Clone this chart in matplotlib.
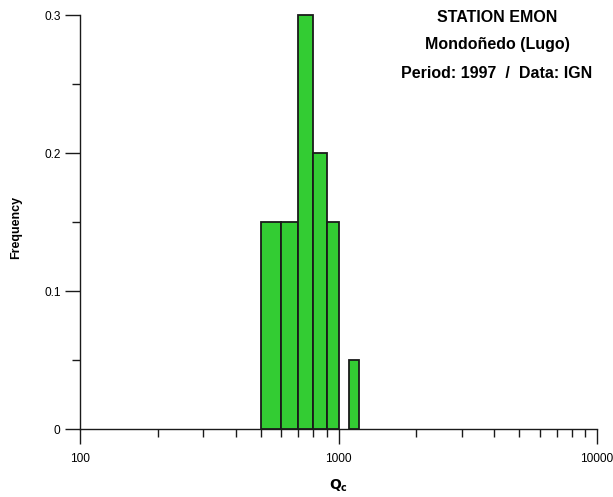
import matplotlib
matplotlib.use("Agg")
import matplotlib.pyplot as plt
from matplotlib.ticker import FixedLocator, NullFormatter

plt.rcParams['font.family'] = ['Liberation Sans', 'DejaVu Sans']

bin_left = [500, 600, 700, 800, 900, 1100]
bin_right = [600, 700, 800, 900, 1000, 1200]
freq = [0.15, 0.15, 0.30, 0.20, 0.15, 0.05]

y_ticks = [0, 0.1, 0.2, 0.3]
y_labels = ["0", "0.1", "0.2", "0.3"]
x_ticks = [100, 1000, 10000]
x_labels = ["100", "1000", "10000"]
title_lines = ["STATION EMON", "Mondoñedo (Lugo)", "Period: 1997  /  Data: IGN"]

fig = plt.figure(figsize=(6.13, 4.97), dpi=100)
ax = fig.add_axes([80/613, 1-429/497, (597-80)/613, (429-15)/497])

widths = [r - l for l, r in zip(bin_left, bin_right)]
ax.bar(bin_left, freq, width=widths, align='edge', color='#33cc33',
       edgecolor='#1a1a1a', linewidth=1.3, clip_on=False, zorder=3)

ax.set_xscale('log')
ax.set_xlim(100, 10000)
ax.set_ylim(0, 0.3)

ax.xaxis.set_major_locator(FixedLocator(x_ticks))
ax.set_xticklabels(x_labels)
minor_x = [m * d for d in (100, 1000) for m in range(2, 10)]
ax.xaxis.set_minor_locator(FixedLocator(minor_x))
ax.xaxis.set_minor_formatter(NullFormatter())

ax.yaxis.set_major_locator(FixedLocator(y_ticks))
ax.set_yticklabels(y_labels)
ax.yaxis.set_minor_locator(FixedLocator([0.05, 0.15, 0.25]))

for s in ('top', 'right'):
    ax.spines[s].set_visible(False)
for s in ('left', 'bottom'):
    ax.spines[s].set_linewidth(1.0)
    ax.spines[s].set_color('#1a1a1a')

ax.tick_params(axis='both', which='major', direction='out', length=11, width=1.0,
               color='#1a1a1a', labelsize=8.6, pad=3)
ax.tick_params(axis='both', which='minor', direction='out', length=5.5, width=1.0,
               color='#1a1a1a')
ax.tick_params(axis='x', which='major', pad=6)

fig.text(16/613, 1 - 227/497, 'Frequency', rotation=90, ha='center', va='center',
         fontsize=9, fontweight='bold')
fig.text(338/613, 1 - 486/497, r'$\mathbf{Q}_\mathbf{c}$', ha='center', va='center',
         fontsize=10)

ys = [17, 45, 73]
for line, y in zip(title_lines, ys):
    fig.text(497/613, 1 - y/497, line, ha='center', va='center',
             fontsize=11.5, fontweight='bold')

fig.savefig('out.png', dpi=100)
